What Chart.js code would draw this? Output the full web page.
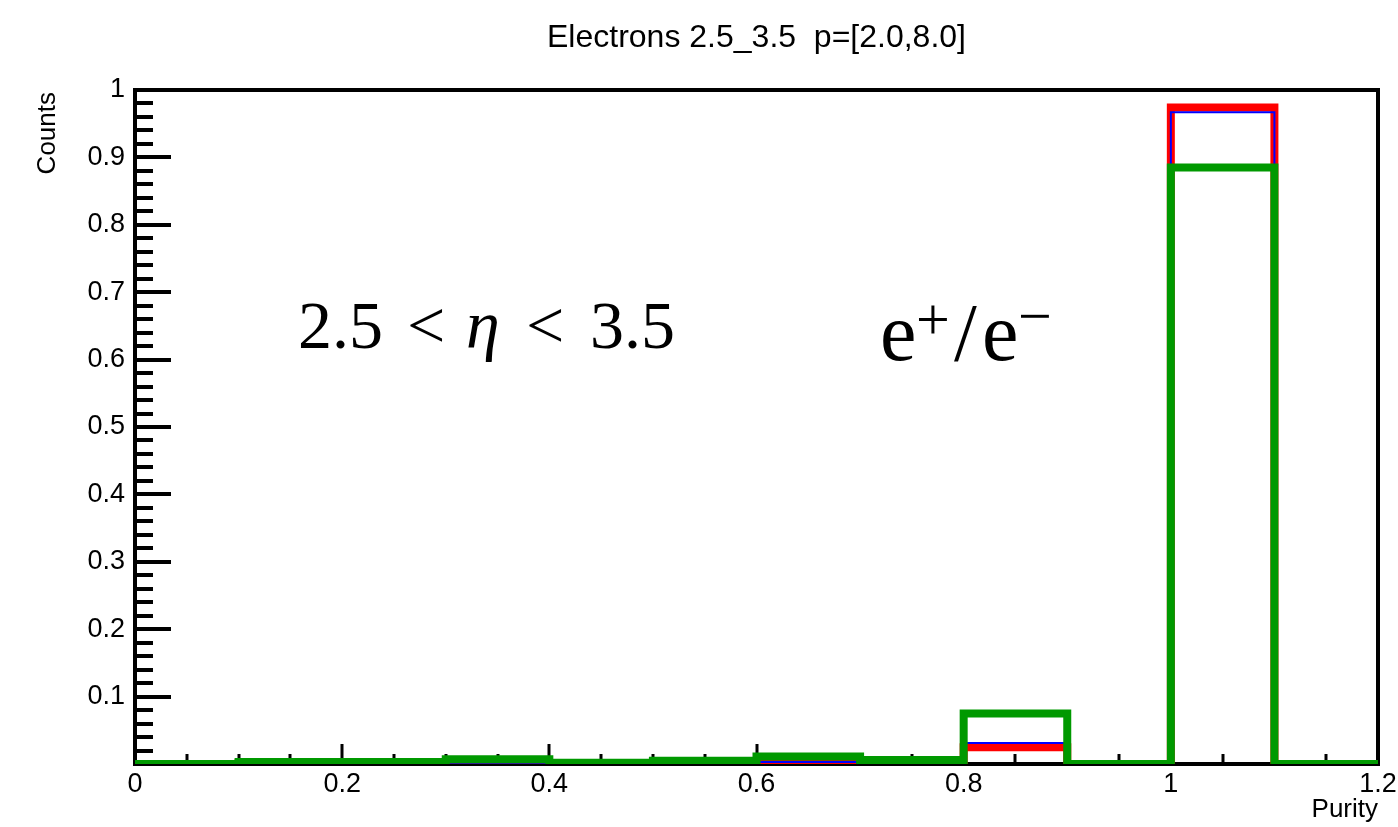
<!DOCTYPE html>
<html>
<head>
<meta charset="utf-8">
<script src="https://cdn.jsdelivr.net/npm/chart.js@4.4.1/dist/chart.umd.min.js"></script>
<style>
  html, body { margin: 0; padding: 0; background: #fff; }
  canvas { display: block; }
</style>
</head>
<body>
<canvas id="purity" width="1398" height="827"></canvas>
<script>
// bins of 0.1 in purity
var binEdges = [0, 0.1, 0.2, 0.3, 0.4, 0.5, 0.6, 0.7, 0.8, 0.9, 1.0, 1.1, 1.2];
var blueCounts = [0, 0, 0, 0.002, 0.001, 0.002, 0.003, 0.002, 0.031, 0, 0.967, 0];
var redCounts = [0, 0.001, 0.001, 0.001, 0.001, 0.001, 0.001, 0.001, 0.025, 0, 0.974, 0];
var greenCounts = [0, 0.003, 0.003, 0.007, 0.002, 0.005, 0.011, 0.006, 0.075, 0, 0.885, 0];

var xTicks = [0, 0.2, 0.4, 0.6, 0.8, 1, 1.2];
var yTicks = [0.1, 0.2, 0.3, 0.4, 0.5, 0.6, 0.7, 0.8, 0.9, 1];

var titleText = "Electrons 2.5_3.5  p=[2.0,8.0]";
var xTitle = "Purity";
var yTitle = "Counts";

function histPoints(counts) {
    // one point per bin edge, the last edge repeats the last bin so the step runs to 1.2
    var pts = [];
    for (var i = 0; i < binEdges.length; i++) {
        pts.push({ x: binEdges[i], y: counts[Math.min(i, counts.length - 1)] });
    }
    return pts;
}

function fmt(v) {
    return String(Number(v.toFixed(1)));
}

var serif = "'Liberation Serif', 'Times New Roman', serif";

var rootFrame = {
    id: "rootFrame",
    beforeDatasetsDraw: function (chart) {
        var ctx = chart.ctx;
        var a = chart.chartArea;
        var xs = chart.scales.x;
        var ys = chart.scales.y;
        ctx.save();
        ctx.strokeStyle = "#000";
        ctx.lineCap = "butt";

        // y ticks, drawn inward like ROOT
        ctx.lineWidth = 4;
        for (var k = 1; k < 50; k++) {
            var py = Math.round(ys.getPixelForValue(k * 0.02));
            var len = k % 5 === 0 ? 36 : 18;
            ctx.beginPath();
            ctx.moveTo(a.left, py);
            ctx.lineTo(a.left + len, py);
            ctx.stroke();
        }
        // x ticks
        ctx.lineWidth = 3;
        for (var j = 1; j < 24; j++) {
            var px = Math.round(xs.getPixelForValue(j * 0.05));
            var h = j % 4 === 0 ? 20 : 10;
            ctx.beginPath();
            ctx.moveTo(px, a.bottom);
            ctx.lineTo(px, a.bottom - h);
            ctx.stroke();
        }
        // frame
        ctx.lineWidth = 4;
        ctx.strokeRect(a.left, a.top, a.right - a.left, a.bottom - a.top);
        ctx.restore();
    },
    afterDraw: function (chart) {
        var ctx = chart.ctx;
        var a = chart.chartArea;
        ctx.save();
        ctx.fillStyle = "#000";
        ctx.textBaseline = "alphabetic";

        ctx.font = "32px 'Liberation Sans', Arial, sans-serif";
        ctx.textAlign = "center";
        ctx.fillText(titleText, (a.left + a.right) / 2, 47);

        ctx.font = "26px 'Liberation Sans', Arial, sans-serif";
        ctx.textAlign = "right";
        ctx.fillText(xTitle, a.right, 817);

        ctx.save();
        ctx.translate(55, a.top + 2);
        ctx.rotate(-Math.PI / 2);
        ctx.textAlign = "right";
        ctx.fillText(yTitle, 0, 0);
        ctx.restore();

        // 2.5 < eta < 3.5, spaced the way TLatex does it
        ctx.textAlign = "left";
        var base = 348;
        ctx.font = "68px " + serif;
        ctx.fillText("2.5", 298, base);
        ctx.fillText("<", 407, base);
        ctx.fillText("<", 526, base);
        ctx.fillText("3.5", 590, base);
        ctx.font = "italic 68px " + serif;
        ctx.fillText("\u03b7", 466, base);

        // e+/e-
        var big = "82px " + serif;
        var sup = "60px " + serif;
        ctx.font = big;
        ctx.fillText("e", 880, 360);
        ctx.font = sup;
        ctx.fillText("+", 916, 339);
        ctx.font = big;
        ctx.fillText("/", 954, 360);
        ctx.fillText("e", 982, 360);
        ctx.font = sup;
        ctx.fillText("\u2212", 1018, 336);
        ctx.restore();
    }
};

var ctx = document.getElementById("purity");
new Chart(ctx, {
    type: "line",
    data: {
        datasets: [
            {
                label: "green",
                data: histPoints(greenCounts),
                borderColor: "#009900",
                borderWidth: 8,
            },
            {
                label: "blue",
                data: histPoints(blueCounts),
                borderColor: "#0000ff",
                borderWidth: 2,
            },
            {
                label: "red",
                data: histPoints(redCounts),
                borderColor: "#ff0000",
                borderWidth: 8,
            },
        ],
    },
    options: {
        responsive: false,
        animation: false,
        devicePixelRatio: 1,
        layout: { padding: { top: 90, right: 20, left: 0, bottom: 0 } },
        elements: {
            point: { radius: 0 },
            line: {
                stepped: "before",
                tension: 0,
                fill: false,
                borderJoinStyle: "miter",
                borderCapStyle: "butt",
            },
        },
        plugins: {
            legend: { display: false },
            tooltip: { enabled: false },
            title: { display: false },
        },
        scales: {
            x: {
                type: "linear",
                min: 0,
                max: 1.2,
                grid: { display: false, drawTicks: false },
                border: { display: false },
                afterBuildTicks: function (scale) {
                    scale.ticks = xTicks.map(function (v) { return { value: v }; });
                },
                afterFit: function (scale) {
                    scale.height = 63;
                    scale.paddingLeft = 0;
                    scale.paddingRight = 0;
                },
                ticks: {
                    padding: 4,
                    maxRotation: 0,
                    color: "#000",
                    font: { family: "'Liberation Sans', Arial, sans-serif", size: 27 },
                    callback: function (v) { return fmt(v); },
                },
            },
            y: {
                min: 0,
                max: 1,
                grid: { display: false, drawTicks: false },
                border: { display: false },
                afterBuildTicks: function (scale) {
                    scale.ticks = yTicks.map(function (v) { return { value: v }; });
                },
                afterFit: function (scale) {
                    scale.width = 135;
                    scale.paddingTop = 0;
                    scale.paddingBottom = 0;
                },
                ticks: {
                    padding: 10,
                    color: "#000",
                    font: { family: "'Liberation Sans', Arial, sans-serif", size: 27 },
                    callback: function (v) { return fmt(v); },
                },
            },
        },
    },
    plugins: [rootFrame],
});
</script>
</body>
</html>
